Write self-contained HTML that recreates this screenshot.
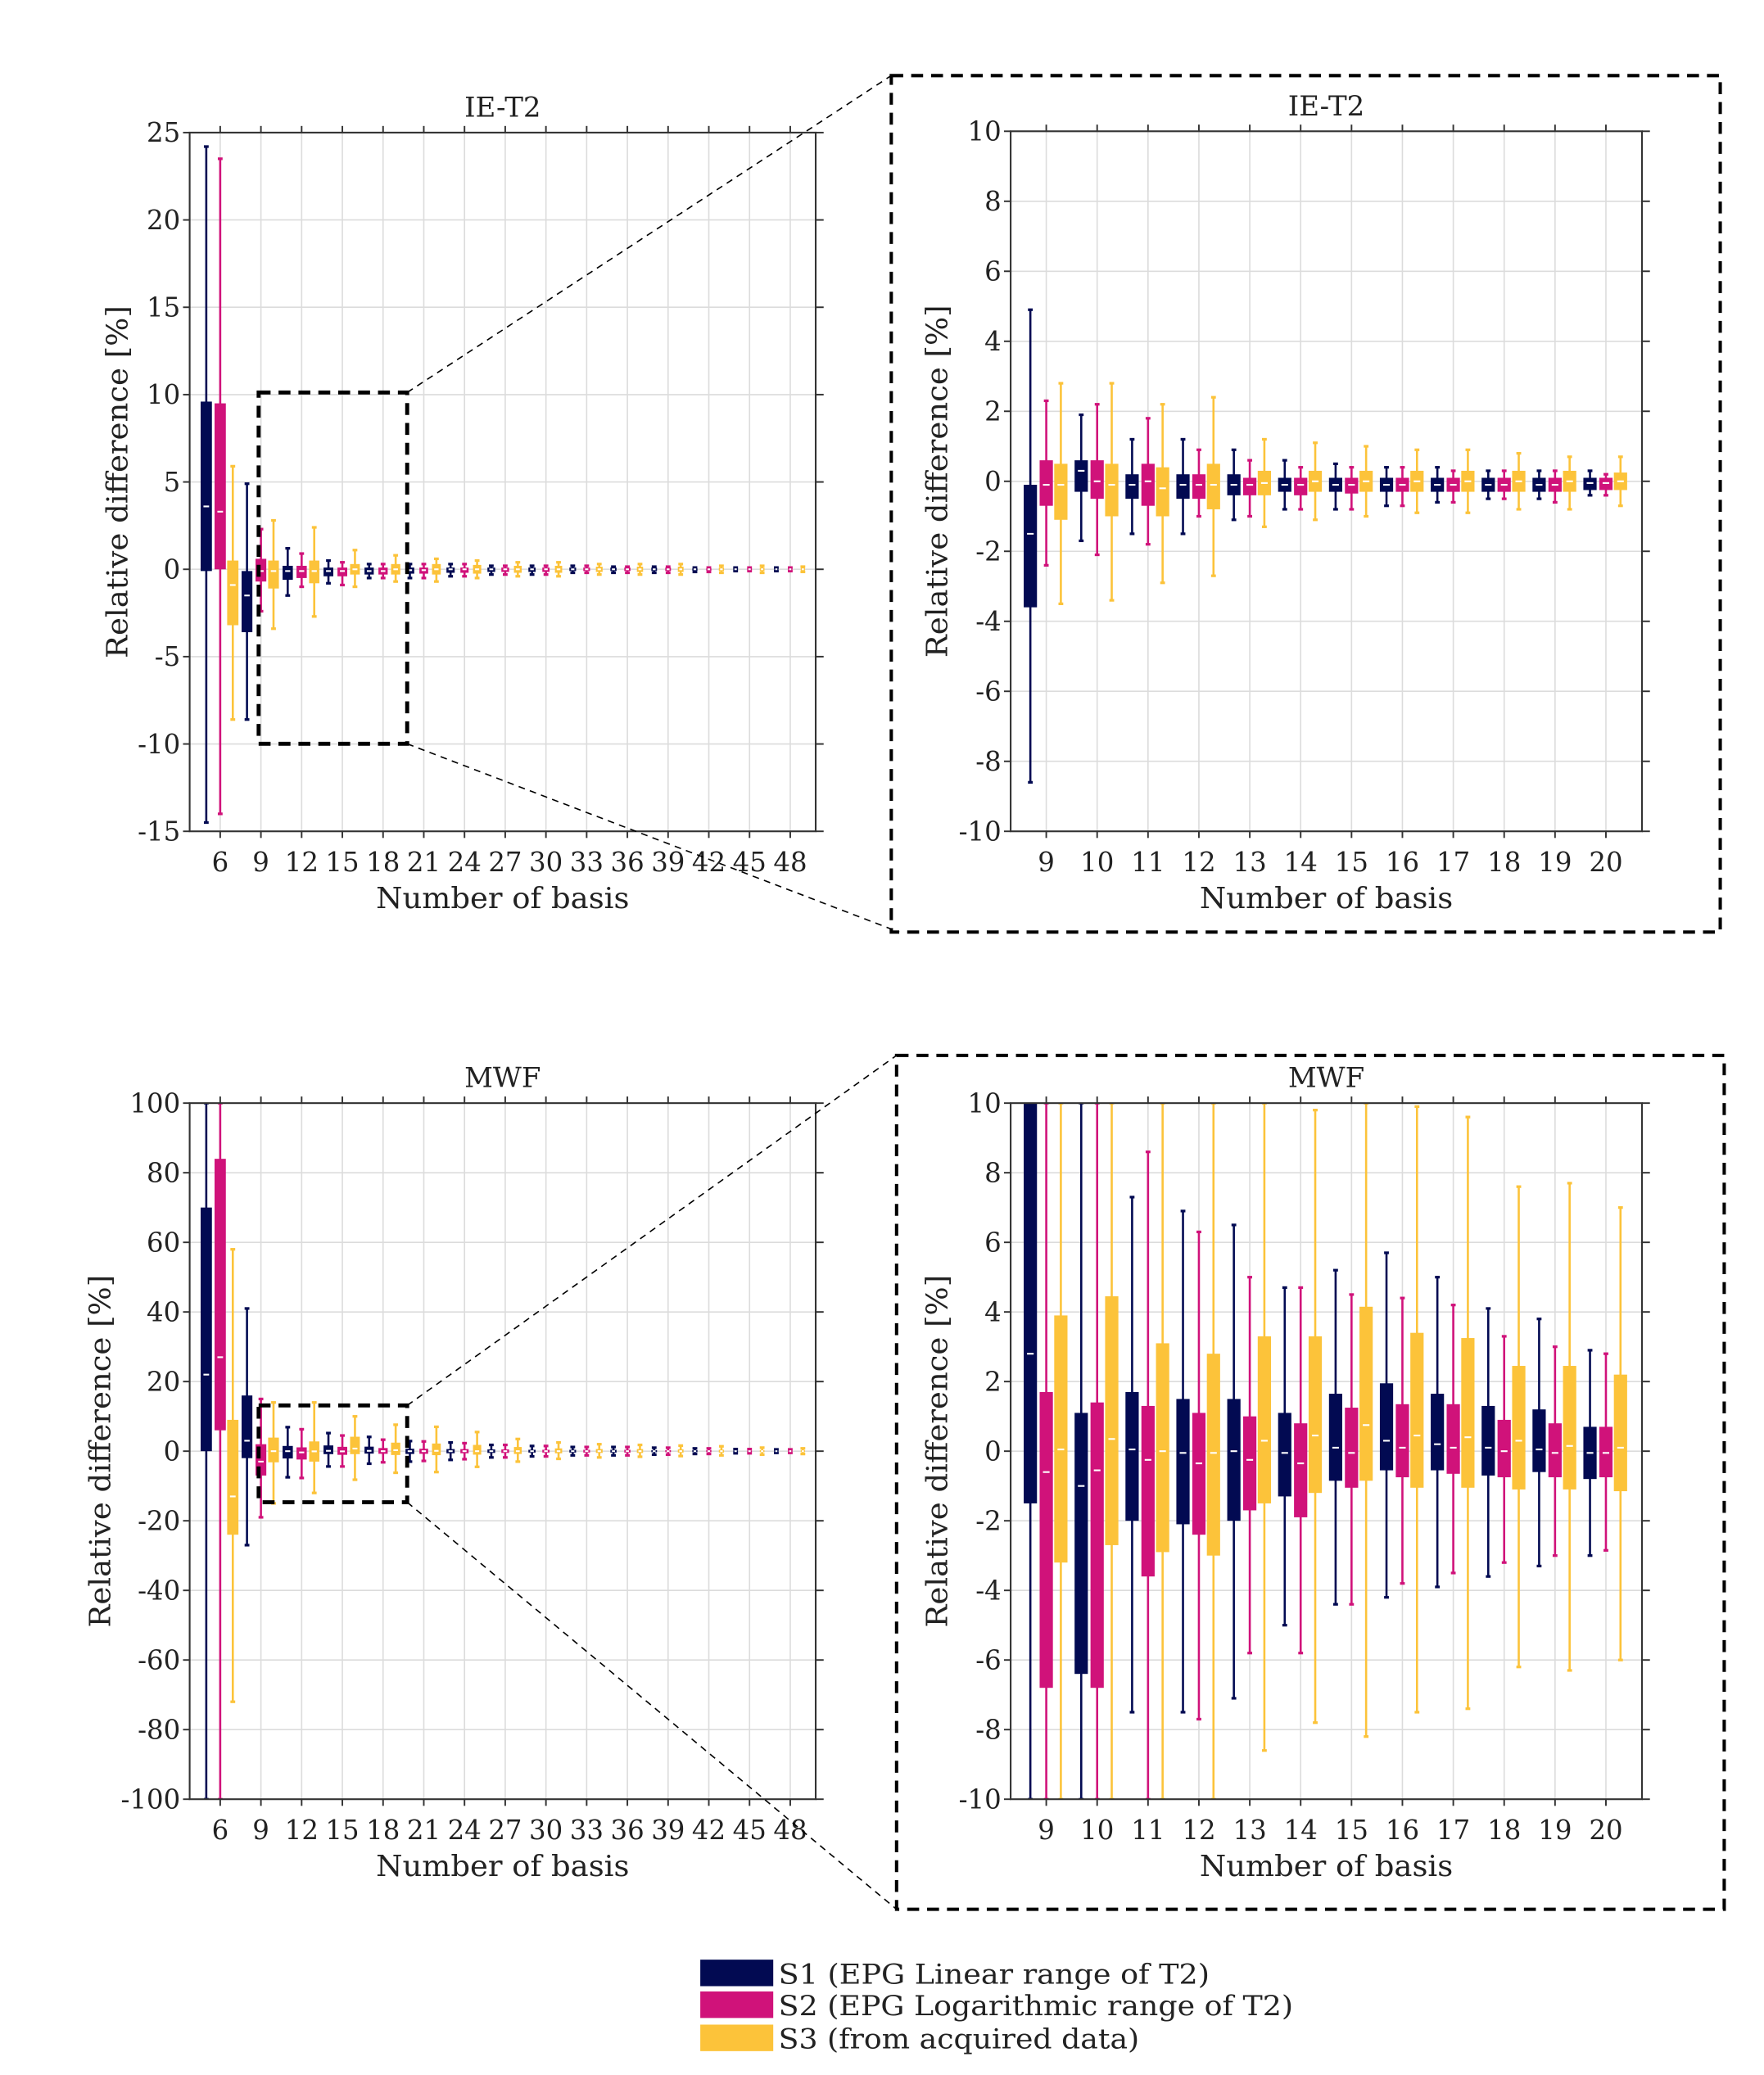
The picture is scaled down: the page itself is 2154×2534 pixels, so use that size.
<!DOCTYPE html>
<html><head><meta charset="utf-8"><style>
html,body{margin:0;padding:0;background:#fff;}
svg{display:block;}
text{font-family:"DejaVu Serif","Liberation Serif",serif;fill:#222;}
</style></head><body>
<svg id="fig" width="2154" height="2534" viewBox="0 0 1330 1565" preserveAspectRatio="none" xmlns="http://www.w3.org/2000/svg">
<defs>
<clipPath id="c1"><rect x="143" y="100" width="472" height="527"/></clipPath>
<clipPath id="c2"><rect x="762" y="99" width="476" height="528"/></clipPath>
<clipPath id="c3"><rect x="143" y="832" width="472" height="525"/></clipPath>
<clipPath id="c4"><rect x="762" y="832" width="476" height="525"/></clipPath>
</defs>
<g id="zoomdeco"></g>
<g id="plots"></g>
<g>
<rect x="528" y="1478" width="55" height="20" fill="#020a52"/>
<rect x="528" y="1502" width="55" height="20" fill="#d0127a"/>
<rect x="528" y="1527" width="55" height="20" fill="#fcc33a"/>
<text x="587" y="1496" font-size="21" textLength="325" lengthAdjust="spacingAndGlyphs">S1 (EPG Linear range of T2)</text>
<text x="587" y="1520" font-size="21" textLength="388" lengthAdjust="spacingAndGlyphs">S2 (EPG Logarithmic range of T2)</text>
<text x="587" y="1545" font-size="21" textLength="272" lengthAdjust="spacingAndGlyphs">S3 (from acquired data)</text>
</g>
</svg>
<script>
// ---------- data: [low whisker, q1, median, q3, high whisker] ----------
const catsWide = ["6","9","12","15","18","21","24","27","30","33","36","39","42","45","48"];
const catsZoom = ["9","10","11","12","13","14","15","16","17","18","19","20"];

const ieWideS1 = [[-14.5,-0.1,3.6,9.6,24.2],[-8.6,-3.6,-1.5,-0.1,4.9],[-1.5,-0.6,-0.1,0.2,1.2],[-0.8,-0.4,-0.1,0.1,0.5],[-0.5,-0.3,-0.1,0.1,0.3],[-0.5,-0.25,-0.05,0.1,0.3],[-0.4,-0.2,0,0.1,0.3],[-0.3,-0.15,0,0.1,0.2],[-0.3,-0.15,0,0.1,0.2],[-0.2,-0.1,0,0.1,0.2],[-0.2,-0.1,0,0.1,0.15],[-0.2,-0.1,0,0.1,0.15],[-0.15,-0.08,0,0.05,0.1],[-0.1,-0.05,0,0.05,0.1],[-0.1,-0.05,0,0.05,0.1]];
const ieWideS2 = [[-14,0,3.3,9.5,23.5],[-2.4,-0.7,-0.1,0.6,2.3],[-1.0,-0.5,-0.1,0.2,0.9],[-0.9,-0.4,-0.1,0.1,0.4],[-0.5,-0.3,-0.1,0.1,0.3],[-0.5,-0.25,-0.05,0.1,0.3],[-0.4,-0.2,0,0.1,0.3],[-0.3,-0.15,0,0.1,0.2],[-0.3,-0.15,0,0.1,0.2],[-0.2,-0.1,0,0.1,0.2],[-0.2,-0.1,0,0.1,0.15],[-0.2,-0.1,0,0.1,0.15],[-0.15,-0.08,0,0.05,0.1],[-0.1,-0.05,0,0.05,0.1],[-0.1,-0.05,0,0.05,0.1]];
const ieWideS3 = [[-8.6,-3.2,-0.9,0.5,5.9],[-3.4,-1.1,-0.1,0.5,2.8],[-2.7,-0.8,-0.1,0.5,2.4],[-1.0,-0.3,0,0.3,1.1],[-0.7,-0.3,0,0.3,0.8],[-0.7,-0.3,0,0.3,0.6],[-0.5,-0.25,0,0.25,0.5],[-0.4,-0.2,0,0.2,0.4],[-0.4,-0.2,0,0.2,0.4],[-0.3,-0.15,0,0.15,0.3],[-0.3,-0.15,0,0.15,0.3],[-0.3,-0.15,0,0.15,0.3],[-0.2,-0.1,0,0.1,0.2],[-0.2,-0.1,0,0.1,0.2],[-0.15,-0.08,0,0.08,0.15]];

const ieZoomS1 = [[-8.6,-3.6,-1.5,-0.1,4.9],[-1.7,-0.3,0.3,0.6,1.9],[-1.5,-0.5,-0.1,0.2,1.2],[-1.5,-0.5,-0.1,0.2,1.2],[-1.1,-0.4,-0.1,0.2,0.9],[-0.8,-0.3,-0.1,0.1,0.6],[-0.8,-0.3,-0.1,0.1,0.5],[-0.7,-0.3,-0.1,0.1,0.4],[-0.6,-0.3,-0.1,0.1,0.4],[-0.5,-0.3,-0.1,0.1,0.3],[-0.5,-0.3,-0.1,0.1,0.3],[-0.4,-0.25,-0.05,0.1,0.3]];
const ieZoomS2 = [[-2.4,-0.7,-0.1,0.6,2.3],[-2.1,-0.5,0,0.6,2.2],[-1.8,-0.7,0,0.5,1.8],[-1.0,-0.5,-0.1,0.2,0.9],[-1.0,-0.4,-0.1,0.1,0.6],[-0.8,-0.4,-0.1,0.1,0.4],[-0.8,-0.35,-0.1,0.1,0.4],[-0.7,-0.3,-0.1,0.1,0.4],[-0.6,-0.3,-0.1,0.1,0.3],[-0.5,-0.3,-0.1,0.1,0.3],[-0.6,-0.3,-0.1,0.1,0.3],[-0.4,-0.25,-0.05,0.1,0.2]];
const ieZoomS3 = [[-3.5,-1.1,-0.1,0.5,2.8],[-3.4,-1.0,-0.1,0.5,2.8],[-2.9,-1.0,-0.2,0.4,2.2],[-2.7,-0.8,-0.1,0.5,2.4],[-1.3,-0.4,-0.05,0.3,1.2],[-1.1,-0.3,0,0.3,1.1],[-1.0,-0.3,0,0.3,1.0],[-0.9,-0.3,0,0.3,0.9],[-0.9,-0.3,0,0.3,0.9],[-0.8,-0.3,0,0.3,0.8],[-0.8,-0.3,0,0.3,0.7],[-0.7,-0.25,0,0.25,0.7]];

const mwfWideS1 = [[-100,0,22,70,100],[-27,-2,3,16,41],[-7.5,-2.1,0,1.5,6.9],[-4.4,-0.85,0.1,1.65,5.2],[-3.6,-0.7,0.1,1.3,4.1],[-3,-0.8,0,0.7,2.9],[-2.5,-0.6,0,0.6,2.5],[-1.8,-0.5,0,0.5,1.8],[-1.5,-0.4,0,0.4,1.5],[-1.2,-0.4,0,0.4,1.2],[-1.2,-0.4,0,0.4,1.2],[-1,-0.3,0,0.3,1],[-0.8,-0.3,0,0.3,0.8],[-0.6,-0.2,0,0.2,0.6],[-0.5,-0.2,0,0.2,0.5]];
const mwfWideS2 = [[-100,6,27,84,100],[-19,-7,-3,2,15],[-7.7,-2.4,-0.35,1.1,6.3],[-4.4,-1.05,-0.05,1.25,4.5],[-3.2,-0.75,0,0.9,3.3],[-2.8,-0.75,0,0.7,2.8],[-2.3,-0.6,0,0.6,2.3],[-1.8,-0.5,0,0.5,1.8],[-1.5,-0.4,0,0.4,1.5],[-1.2,-0.4,0,0.4,1.2],[-1.2,-0.4,0,0.4,1.2],[-1,-0.3,0,0.3,1],[-0.8,-0.3,0,0.3,0.8],[-0.6,-0.2,0,0.2,0.6],[-0.5,-0.2,0,0.2,0.5]];
const mwfWideS3 = [[-72,-24,-13,9,58],[-15,-3.2,0,3.9,14],[-12,-3,-0.05,2.8,14],[-8.2,-0.85,0.75,4.15,10],[-6.2,-1.1,0.3,2.45,7.6],[-6,-1.15,0.1,2.2,7],[-4.5,-1,0,1.8,5.5],[-3,-0.8,0,1.2,3.5],[-2.2,-0.6,0,0.8,2.5],[-1.8,-0.5,0,0.6,2],[-1.6,-0.5,0,0.6,1.8],[-1.4,-0.4,0,0.5,1.6],[-1.2,-0.4,0,0.4,1.4],[-1,-0.3,0,0.3,1],[-0.8,-0.3,0,0.3,0.8]];

const mwfZoomS1 = [[-10,-1.5,2.8,10,10],[-10,-6.4,-1.0,1.1,10],[-7.5,-2.0,0.05,1.7,7.3],[-7.5,-2.1,-0.05,1.5,6.9],[-7.1,-2.0,0,1.5,6.5],[-5.0,-1.3,-0.05,1.1,4.7],[-4.4,-0.85,0.1,1.65,5.2],[-4.2,-0.55,0.3,1.95,5.7],[-3.9,-0.55,0.2,1.65,5.0],[-3.6,-0.7,0.1,1.3,4.1],[-3.3,-0.6,0.05,1.2,3.8],[-3.0,-0.8,-0.05,0.7,2.9]];
const mwfZoomS2 = [[-10,-6.8,-0.6,1.7,10],[-10,-6.8,-0.55,1.4,10],[-10,-3.6,-0.25,1.3,8.6],[-7.7,-2.4,-0.35,1.1,6.3],[-5.8,-1.7,-0.25,1.0,5.0],[-5.8,-1.9,-0.35,0.8,4.7],[-4.4,-1.05,-0.05,1.25,4.5],[-3.8,-0.75,0.1,1.35,4.4],[-3.5,-0.65,0.1,1.35,4.2],[-3.2,-0.75,0,0.9,3.3],[-3.0,-0.75,-0.05,0.8,3.0],[-2.85,-0.75,-0.05,0.7,2.8]];
const mwfZoomS3 = [[-10,-3.2,0.05,3.9,10],[-10,-2.7,0.35,4.45,10],[-10,-2.9,0,3.1,10],[-10,-3.0,-0.05,2.8,10],[-8.6,-1.5,0.3,3.3,10],[-7.8,-1.2,0.45,3.3,9.8],[-8.2,-0.85,0.75,4.15,10],[-7.5,-1.05,0.45,3.4,9.9],[-7.4,-1.05,0.4,3.25,9.6],[-6.2,-1.1,0.3,2.45,7.6],[-6.3,-1.1,0.15,2.45,7.7],[-6.0,-1.15,0.1,2.2,7.0]];

const colors = ["#020a52","#d0127a","#fcc33a"];
const NS = "http://www.w3.org/2000/svg";

function mk(parent, tag, attrs){
  const e = document.createElementNS(NS, tag);
  for (const k in attrs) e.setAttribute(k, attrs[k]);
  parent.appendChild(e);
  return e;
}

function plot(cfg){
  const root = document.getElementById('plots');
  const g = mk(root,'g',{});
  
  
  const n = cfg.cats.length;
  const sx = i => cfg.x0 + (i + cfg.off) * cfg.step;
  const sy = v => cfg.y1 - (v - cfg.ymin) / (cfg.ymax - cfg.ymin) * (cfg.y1 - cfg.y0);
  for (let i=0;i<n;i++){
    const l = mk(g,'line',{x1:sx(i),x2:sx(i),y1:cfg.y0,y2:cfg.y1,stroke:"#dcdcdc","stroke-width":1});
    
    
  }
  for (const t of cfg.yticks){
    const l = mk(g,'line',{x1:cfg.x0,x2:cfg.x1,y1:sy(t),y2:sy(t),stroke:"#dcdcdc","stroke-width":1});
    
    
  }
  const bg = mk(g,'g',{"clip-path":"url(#"+cfg.clip+")"});
  
  
  const bw = cfg.bw;
  cfg.series.forEach((ser, s) => {
    ser.forEach((d, i) => {
      const cx = sx(i) + (s-1)*bw - (s===0? 2:0) + (s===2? 1:0);
      const scale = cfg.shrink ? Math.max(0.35, 1 - i*0.045) : 1;
      const w = bw*scale;
      const bx = cx - w/2;
      const bgp = mk(bg,'g',{});
      
      
      mk(bgp,'line',{x1:cx,x2:cx,y1:sy(d[0]),y2:sy(d[4]),stroke:colors[s],"stroke-width":1.6});
      mk(bgp,'line',{x1:cx-1.8,x2:cx+1.8,y1:sy(d[0]),y2:sy(d[0]),stroke:colors[s],"stroke-width":2});
      mk(bgp,'line',{x1:cx-1.8,x2:cx+1.8,y1:sy(d[4]),y2:sy(d[4]),stroke:colors[s],"stroke-width":2});
      const top = sy(d[3]), bot = sy(d[1]);
      mk(bgp,'rect',{x:bx,y:top,width:w,height:Math.max(bot-top,1.5),fill:colors[s]});
      mk(bgp,'line',{x1:bx+w*0.25,x2:bx+w*0.75,y1:sy(d[2]),y2:sy(d[2]),stroke:"#fff","stroke-width":1.3});
    });
  });
  const fr = mk(g,'rect',{x:cfg.x0,y:cfg.y0,width:cfg.x1-cfg.x0,height:cfg.y1-cfg.y0,fill:"none",stroke:"#333","stroke-width":1.3});
  
  
  for (let i=0;i<n;i++){
    mk(g,'line',{x1:sx(i),x2:sx(i),y1:cfg.y1,y2:cfg.y1+5,stroke:"#333","stroke-width":1.2});
    mk(g,'line',{x1:sx(i),x2:sx(i),y1:cfg.y0,y2:cfg.y0-5,stroke:"#333","stroke-width":1.2});
    const t = mk(g,'text',{x:sx(i),y:cfg.y1+30,"text-anchor":"middle","font-size":20});
    
    
    t.textContent = cfg.cats[i];
  }
  for (const v of cfg.yticks){
    mk(g,'line',{x1:cfg.x0-5,x2:cfg.x0,y1:sy(v),y2:sy(v),stroke:"#333","stroke-width":1.2});
    mk(g,'line',{x1:cfg.x1,x2:cfg.x1+6,y1:sy(v),y2:sy(v),stroke:"#333","stroke-width":1.2});
    const t = mk(g,'text',{x:cfg.x0-7,y:sy(v)+7,"text-anchor":"end","font-size":20});
    
    
    t.textContent = String(v);
  }
  const ti = mk(g,'text',{x:(cfg.x0+cfg.x1)/2,y:cfg.y0-12,"text-anchor":"middle","font-size":21});
  
  
  ti.textContent = cfg.title;
  const xt = mk(g,'text',{x:(cfg.x0+cfg.x1)/2,y:cfg.y1+58,"text-anchor":"middle","font-size":22,textLength:191,lengthAdjust:"spacingAndGlyphs"});
  
  
  xt.textContent = "Number of basis";
  const cy = (cfg.y0+cfg.y1)/2;
  const yt = mk(g,'text',{x:cfg.ylx,y:cy,"text-anchor":"middle","font-size":22,textLength:266,lengthAdjust:"spacingAndGlyphs",transform:"rotate(-90 "+cfg.ylx+" "+cy+")"});
  
  
  yt.textContent = "Relative difference [%]";
}

plot({name:"ie-t2-wide-chart",title:"IE-T2",x0:143,x1:615,y0:100,y1:627,ymin:-15,ymax:25,yticks:[-15,-10,-5,0,5,10,15,20,25],cats:catsWide,step:30.7,off:0.75,bw:8.5,clip:"c1",ylx:96,shrink:true,series:[ieWideS1,ieWideS2,ieWideS3]});
plot({name:"ie-t2-zoom-chart",title:"IE-T2",x0:762,x1:1238,y0:99,y1:627,ymin:-10,ymax:10,yticks:[-10,-8,-6,-4,-2,0,2,4,6,8,10],cats:catsZoom,step:38.36,off:0.7,bw:10,clip:"c2",ylx:714,series:[ieZoomS1,ieZoomS2,ieZoomS3]});
plot({name:"mwf-wide-chart",title:"MWF",x0:143,x1:615,y0:832,y1:1357,ymin:-100,ymax:100,yticks:[-100,-80,-60,-40,-20,0,20,40,60,80,100],cats:catsWide,step:30.7,off:0.75,bw:8.5,clip:"c3",ylx:83,shrink:true,series:[mwfWideS1,mwfWideS2,mwfWideS3]});
plot({name:"mwf-zoom-chart",title:"MWF",x0:762,x1:1238,y0:832,y1:1357,ymin:-10,ymax:10,yticks:[-10,-8,-6,-4,-2,0,2,4,6,8,10],cats:catsZoom,step:38.36,off:0.7,bw:10,clip:"c4",ylx:714,series:[mwfZoomS1,mwfZoomS2,mwfZoomS3]});

const zd = document.getElementById('zoomdeco');
function dl(x1,y1,x2,y2,w,da,name){
  const l = mk(zd,'line',{x1:x1,y1:y1,x2:x2,y2:y2,stroke:"#000","stroke-width":w,"stroke-dasharray":da});
  
  
}
function drect(x,y,w,h,sw,da,name){
  const r = mk(zd,'rect',{x:x,y:y,width:w,height:h,fill:"none",stroke:"#000","stroke-width":sw,"stroke-dasharray":da});
  
  
}
drect(672,57,625,646,2.5,"9 6","ie-t2-zoom-frame");
drect(676,796,624,644,2.5,"9 6","mwf-zoom-frame");
dl(307,296,672,57,1,"5 4","ie-t2-connector-top");
dl(307,561,678,703,1,"5 4","ie-t2-connector-bottom");
dl(307,1060,676,796,1,"5 4","mwf-connector-top");
dl(307,1133,676,1440,1,"5 4","mwf-connector-bottom");
document.getElementById('fig').appendChild(zd);
drect(195,296,112,265,3,"9 6","ie-t2-zoom-region");
drect(195,1060,112,73,3,"9 6","mwf-zoom-region");
</script>
</body></html>
